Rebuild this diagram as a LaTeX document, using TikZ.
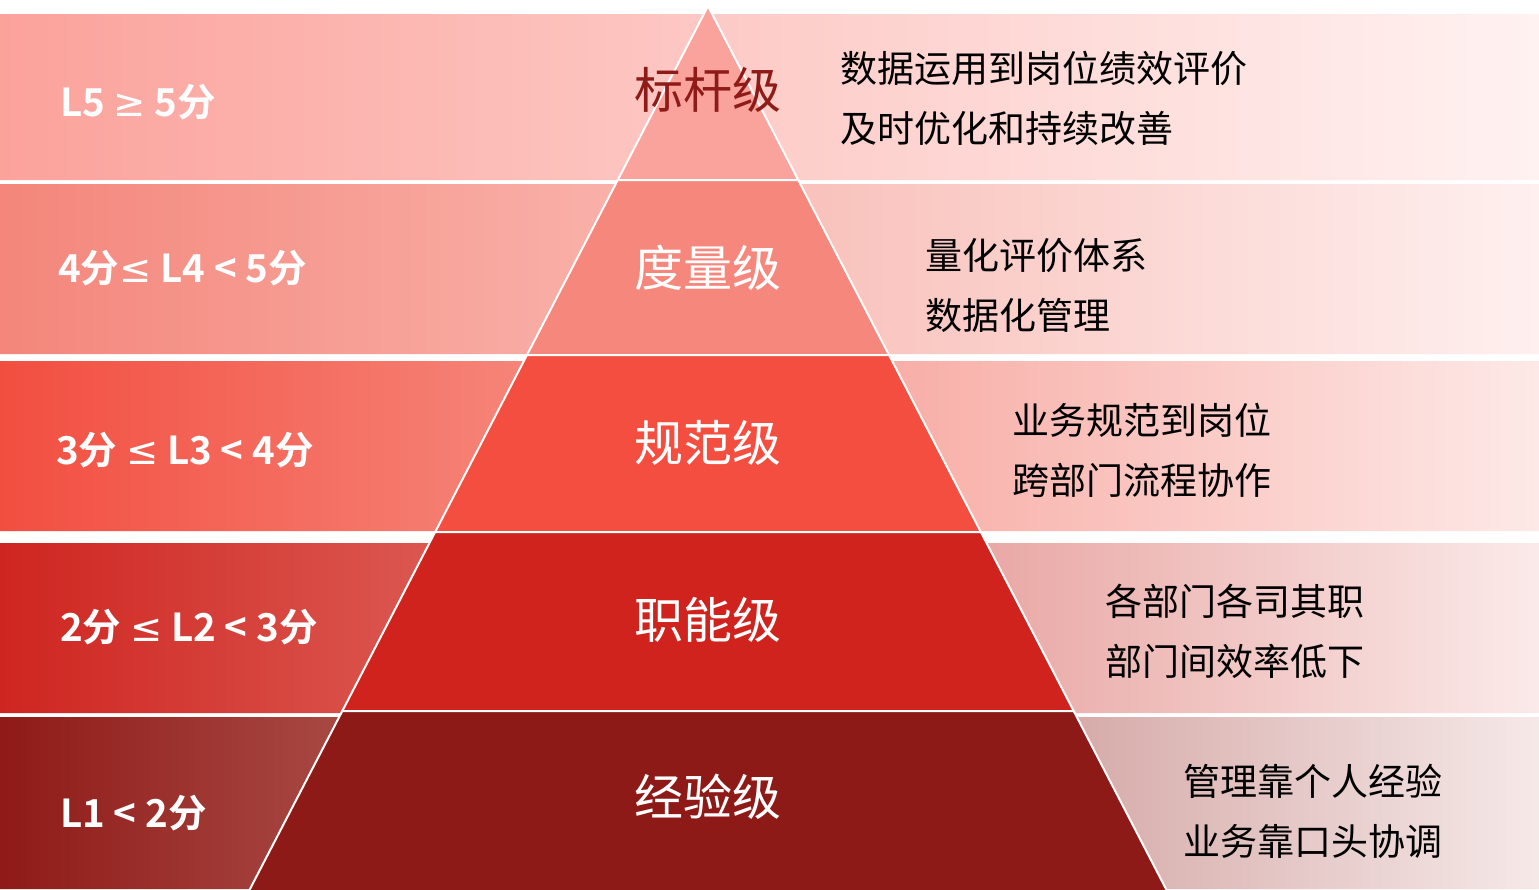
\documentclass[tikz,border=0pt]{standalone}
\usepackage{fontspec}
\setmainfont{Noto Sans CJK SC}
\newfontfamily\cjkb{Noto Sans CJK SC Bold}
\newfontfamily\symf{DejaVu Sans}
\newcommand{\myge}{{\symf\fontseries{m}\selectfont ≥}}
\newcommand{\myle}{{\symf ≤}}
\usetikzlibrary{calc}
\definecolor{pA}{HTML}{FAA39C}\definecolor{lA1}{HTML}{FBA29B}\definecolor{lA2}{HTML}{FDC8C4}\definecolor{rA1}{HTML}{FDCAC6}\definecolor{rA2}{HTML}{FFF2F1}
\definecolor{pB}{HTML}{F6877C}\definecolor{lB1}{HTML}{F4867B}\definecolor{lB2}{HTML}{F9B1A9}\definecolor{rB1}{HTML}{F9C1BB}\definecolor{rB2}{HTML}{FEF0EF}
\definecolor{pC}{HTML}{F44E41}\definecolor{lC1}{HTML}{F24E40}\definecolor{lC2}{HTML}{F68579}\definecolor{rC1}{HTML}{F8AEA7}\definecolor{rC2}{HTML}{FDE9E7}
\definecolor{pD}{HTML}{D0231E}\definecolor{lD1}{HTML}{CF2520}\definecolor{lD2}{HTML}{DB5851}\definecolor{rD1}{HTML}{E9A8A5}\definecolor{rD2}{HTML}{FAEAE9}
\definecolor{pE}{HTML}{8E1A17}\definecolor{lE1}{HTML}{8F1A17}\definecolor{lE2}{HTML}{A84944}\definecolor{rE1}{HTML}{D6ABA9}\definecolor{rE2}{HTML}{F5E9E8}
\definecolor{topred}{HTML}{8E1B17}
\tikzset{
  lefttxt/.style={anchor=west,inner sep=0pt,text=white,font=\cjkb\fontsize{38.5}{48}\selectfont},
  pyrtxt/.style={anchor=center,inner sep=0pt,text=white,font=\fontsize{49}{58}\selectfont},
  righttxt/.style={anchor=west,inner sep=0pt,text=black,align=left,font=\fontsize{37}{60}\selectfont},
  pyrlayer/.style={draw=white,line width=2pt,line join=miter},
}
\begin{document}
\begin{tikzpicture}[x=1pt,y=-1pt]
\useasboundingbox (0,0) rectangle (1539,889);
\fill[white] (0,0) rectangle (1539,889);
\newcommand{\xl}[1]{\fpeval{708-0.5187*(#1-6)}}
\newcommand{\xr}[1]{\fpeval{708+0.5187*(#1-6)}}
\newcommand{\band}[6]{%
  \shade[left color=#3,right color=#4] (0,#1) -- (\xl{#1}+4,#1) -- (\xl{#2}+4,#2) -- (0,#2) -- cycle;
  \shade[left color=#5,right color=#6] (\xr{#1}-4,#1) -- (1539,#1) -- (1539,#2) -- (\xr{#2}-4,#2) -- cycle;
}
\band{14}{180}{lA1}{lA2}{rA1}{rA2}
\band{184}{354}{lB1}{lB2}{rB1}{rB2}
\band{361}{531}{lC1}{lC2}{rC1}{rC2}
\band{543}{713}{lD1}{lD2}{rD1}{rD2}
\band{717}{889}{lE1}{lE2}{rE1}{rE2}
% pyramid layers
\fill[pA,pyrlayer] (708,6) -- (\xr{180},180) -- (\xl{180},180) -- cycle;
\fill[pB,pyrlayer] (\xl{180},180) -- (\xr{180},180) -- (\xr{355},355) -- (\xl{355},355) -- cycle;
\fill[pC,pyrlayer] (\xl{355},355) -- (\xr{355},355) -- (\xr{532},532) -- (\xl{532},532) -- cycle;
\fill[pD,pyrlayer] (\xl{532},532) -- (\xr{532},532) -- (\xr{711},711) -- (\xl{711},711) -- cycle;
\fill[pE,pyrlayer] (\xl{711},711) -- (\xr{711},711) -- (\xr{895},895) -- (\xl{895},895) -- cycle;
% left labels
\node[lefttxt] (l5) at (60,102) {L5 \myge{} 5分};
\node[lefttxt] (l4) at (58,268) {4分\myle{} L4 < 5分};
\node[lefttxt] (l3) at (56,450) {3分 \myle{} L3 < 4分};
\node[lefttxt] (l2) at (60,627) {2分 \myle{} L2 < 3分};
\node[lefttxt] (l1) at (60,813) {L1 < 2分};
% pyramid labels
\node[pyrtxt,text=topred] (p5) at (708,90) {标杆级};
\node[pyrtxt] (p4) at (708,268) {度量级};
\node[pyrtxt] (p3) at (708,443) {规范级};
\node[pyrtxt] (p2) at (708,620) {职能级};
\node[pyrtxt] (p1) at (708,797) {经验级};
% right texts
\node[righttxt] (r5) at (840,98) {数据运用到岗位绩效评价\\及时优化和持续改善};
\node[righttxt] (r4) at (925,285) {量化评价体系\\数据化管理};
\node[righttxt] (r3) at (1012,450) {业务规范到岗位\\跨部门流程协作};
\node[righttxt] (r2) at (1105,631) {各部门各司其职\\部门间效率低下};
\node[righttxt] (r1) at (1183,811) {管理靠个人经验\\业务靠口头协调};
\end{tikzpicture}
\end{document}
